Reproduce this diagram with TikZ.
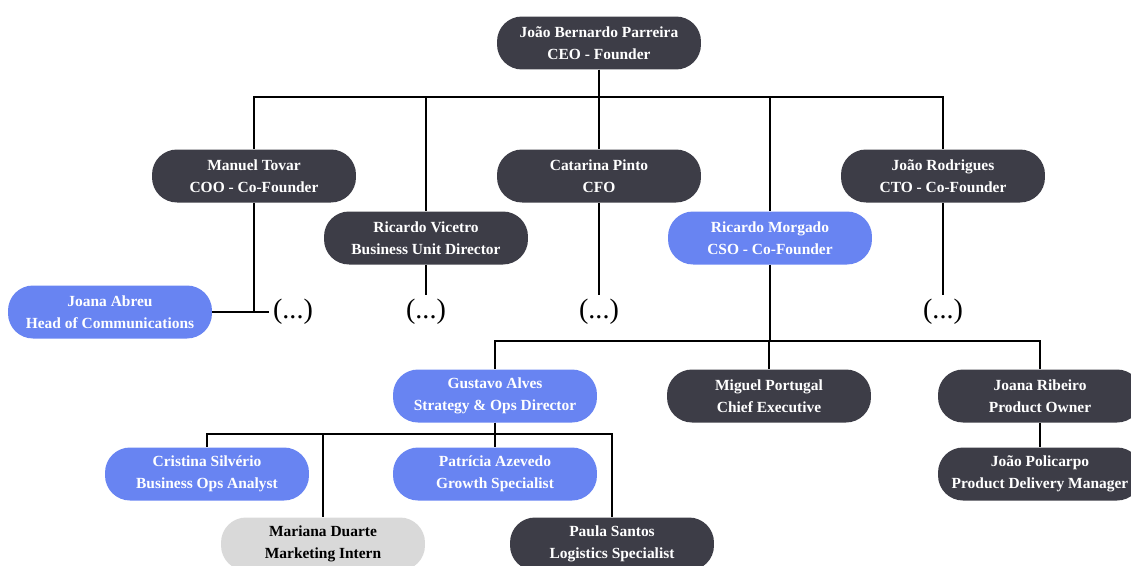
\documentclass[tikz,border=0pt]{standalone}
\usepackage{fontspec}
\setmainfont{Liberation Serif}
\usepackage{xcolor}
\usetikzlibrary{positioning}
\definecolor{darkbox}{RGB}{61,61,71}
\definecolor{bluebox}{RGB}{104,132,242}
\definecolor{internbox}{RGB}{217,217,217}

\begin{document}
\begin{tikzpicture}[x=0.02cm, y=-0.02cm,
    person/.style={rounded corners=0.5cm, minimum width=4.08cm, minimum height=1.06cm,
        inner sep=0pt, align=center, text=white, font=\bfseries\fontsize{8.8}{12.5}\selectfont},
    darkperson/.style={person, fill=darkbox},
    blueperson/.style={person, fill=bluebox},
    internperson/.style={person, fill=internbox, text=black},
    link/.style={line width=1.5pt, draw=black},
    more/.style={font=\fontsize{16}{18}\selectfont, inner sep=2pt}]
    \clip (0,0) rectangle (1131,565);

    % Board
    \node[darkperson] (ceo) at (599,43) {João Bernardo Parreira\\CEO - Founder};
    \node[darkperson] (tovar) at (254,176) {Manuel Tovar\\COO - Co-Founder};
    \node[darkperson] (pinto) at (599,176) {Catarina Pinto\\CFO};
    \node[darkperson] (rodrigues) at (943,176) {João Rodrigues\\CTO - Co-Founder};
    \node[darkperson] (vicetro) at (426,238) {Ricardo Vicetro\\Business Unit Director};
    \node[blueperson] (morgado) at (770,238) {Ricardo Morgado\\CSO - Co-Founder};

    % Second level
    \node[blueperson] (abreu) at (110,312) {Joana Abreu\\Head of Communications};
    \node[more] (dotsA) at (293,312) {(...)};
    \node[more] (dotsB) at (426,312) {(...)};
    \node[more] (dotsC) at (599,312) {(...)};
    \node[more] (dotsD) at (943,312) {(...)};
    \node[blueperson] (gustavo) at (495,396) {Gustavo Alves\\Strategy \& Ops Director};
    \node[darkperson] (portugal) at (769,396) {Miguel Portugal\\Chief Executive};
    \node[darkperson] (ribeiro) at (1040,396) {Joana Ribeiro\\Product Owner};
    \node[darkperson] (policarpo) at (1040,474) {João Policarpo\\Product Delivery Manager};

    % Strategy team
    \node[blueperson] (silverio) at (207,474) {Cristina Silvério\\Business Ops Analyst};
    \node[blueperson] (azevedo) at (495,474) {Patrícia Azevedo\\Growth Specialist};
    \node[internperson] (duarte) at (323,544) {Mariana Duarte\\Marketing Intern};
    \node[darkperson] (santos) at (612,544) {Paula Santos\\Logistics Specialist};

    % Connectors
    \foreach \n in {tovar,vicetro,pinto,morgado,rodrigues}
        \draw[link] (ceo.south) -- ++(0,27) -| (\n.north);
    \draw[link] (tovar.south) |- (abreu.east);
    \draw[link] (abreu.east) -- (dotsA.west);
    \draw[link] (vicetro.south) -- (dotsB.north);
    \draw[link] (pinto.south) -- (dotsC.north);
    \draw[link] (rodrigues.south) -- (dotsD.north);
    \foreach \n in {gustavo,portugal,ribeiro}
        \draw[link] (morgado.south) -- ++(0,76) -| (\n.north);
    \draw[link] (ribeiro.south) -- (policarpo.north);
    \foreach \n in {silverio,duarte,azevedo,santos}
        \draw[link] (gustavo.south) -- ++(0,11) -| (\n.north);
\end{tikzpicture}
\end{document}
